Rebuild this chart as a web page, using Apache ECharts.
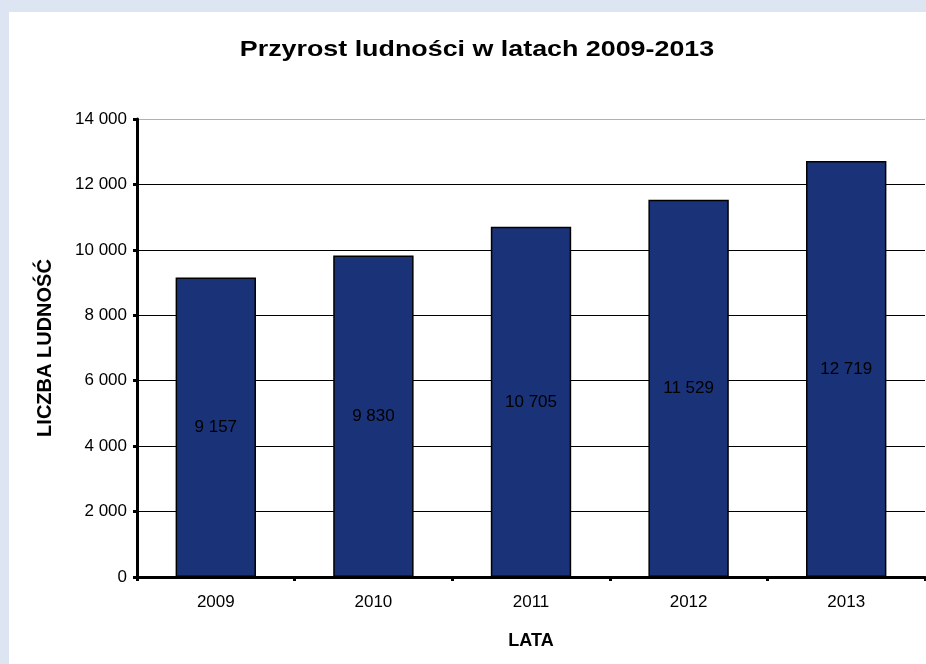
<!DOCTYPE html>
<html>
<head>
<meta charset="utf-8">
<script src="https://cdn.jsdelivr.net/npm/echarts@6/dist/echarts.min.js"></script>
<style>
html,body{margin:0;padding:0;background:#dce5f1;}
#c{width:926px;height:664px;}
</style>
</head>
<body>
<div id="c"></div>
<script>
const years = ['2009','2010','2011','2012','2013'];
const population = [9157, 9830, 10705, 11529, 12719];
const titleText = 'Przyrost ludności w latach 2009-2013';
const yName = 'LICZBA LUDNOŚĆ';
const xName = 'LATA';

const fmt = v => String(v).replace(/\B(?=(\d{3})+(?!\d))/g, ' ');
const FONT = '"Liberation Sans", Arial, sans-serif';

const chart = echarts.init(document.getElementById('c'));
chart.setOption({
  animation: false,
  backgroundColor: 'transparent',
  graphic: [{
    type: 'rect', z: -10, silent: true,
    shape: {x: 9, y: 12, width: 930, height: 660},
    style: {fill: '#ffffff'}
  }, {
    type: 'text', silent: true, x: 477, y: 50, scaleX: 1.22, scaleY: 1,
    style: {text: titleText, font: 'bold 22px "Liberation Sans", Arial, sans-serif',
      fill: '#000', align: 'center', verticalAlign: 'middle'}
  }],
  grid: {left: 137, top: 119, right: 1, bottom: 87, containLabel: false},
  xAxis: {
    type: 'category', data: years,
    name: xName, nameLocation: 'middle', nameGap: 55,
    nameTextStyle: {fontFamily: FONT, fontSize: 18, fontWeight: 'bold', color: '#000'},
    axisLine: {lineStyle: {color: '#000', width: 3}},
    axisTick: {show: true, length: 4, lineStyle: {color: '#000', width: 3}},
    axisLabel: {fontFamily: FONT, fontSize: 17, color: '#000', margin: 17}
  },
  yAxis: {
    type: 'value', min: 0, max: 14000, interval: 2000,
    name: yName, nameLocation: 'middle', nameGap: 82, nameRotate: 90,
    nameTextStyle: {fontFamily: FONT, fontSize: 20, fontWeight: 'bold', color: '#000'},
    axisLine: {show: true, lineStyle: {color: '#000', width: 3}},
    axisTick: {show: true, length: 4, lineStyle: {color: '#000', width: 3}},
    axisLabel: {fontFamily: FONT, fontSize: 17, color: '#000', margin: 10, formatter: fmt},
    splitLine: {show: true, lineStyle: {color: ['#000','#000','#000','#000','#000','#000','#000','#b0b0b0'], width: 1}}
  },
  series: [{
    type: 'bar', data: population, barWidth: '51%',
    itemStyle: {color: '#1a3278', borderColor: '#000', borderWidth: 1.5},
    label: {show: true, position: 'inside', formatter: p => fmt(p.value),
      fontFamily: FONT, fontSize: 17, color: '#000'}
  }]
});
</script>
</body>
</html>
